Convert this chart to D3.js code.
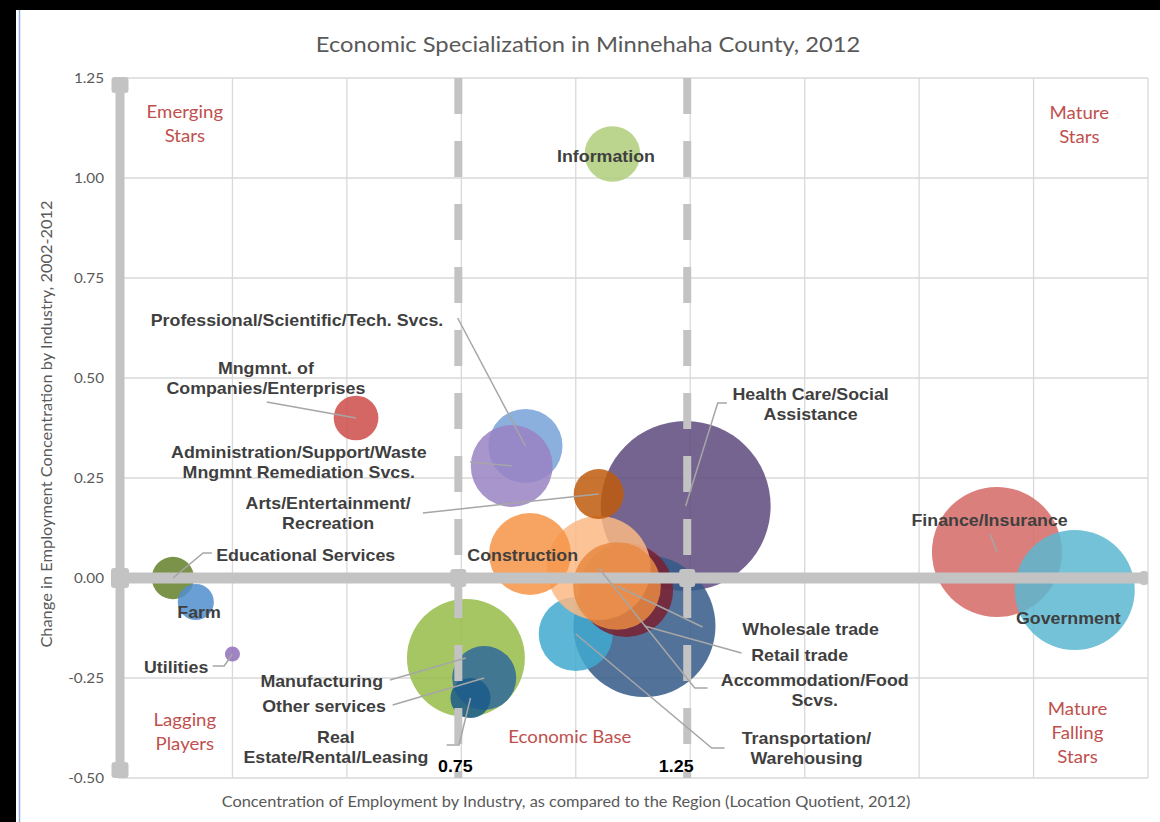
<!DOCTYPE html>
<html>
<head>
<meta charset="utf-8">
<script src="https://cdn.jsdelivr.net/npm/d3@7"></script>
<style>
  body { margin: 0; background: #fff; }
  svg { display: block; }
</style>
</head>
<body>
<div id="chart"></div>
<script>
// Data, listed in drawing order (back to front)
const industries = [
  "Manufacturing", "Other services", "Real Estate/Rental/Leasing",
  "Finance/Insurance", "Government", "Health Care/Social Assistance",
  "Retail trade", "Transportation/Warehousing", "Unlabeled",
  "Accommodation/Food Scvs.", "Wholesale trade", "Construction",
  "Arts/Entertainment/Recreation", "Professional/Scientific/Tech. Svcs.",
  "Administration/Support/Waste Mngmnt Remediation Svcs.",
  "Mngmnt. of Companies/Enterprises", "Information",
  "Educational Services", "Farm", "Utilities"
];
// location quotient 2012 (x)
const locationQuotient = [
  0.76, 0.80, 0.77, 1.92, 2.09, 1.24, 1.15, 1.00, 1.11, 1.05,
  1.09, 0.90, 1.05, 0.89, 0.86, 0.52, 1.08, 0.12, 0.17, 0.25
];
// change in concentration 2002-2012 (y)
const concentrationChange = [
  -0.20, -0.25, -0.30, 0.065, -0.03, 0.18, -0.12, -0.14, -0.03, 0.025,
  -0.02, 0.06, 0.21, 0.33, 0.28, 0.40, 1.06, 0.00, -0.06, -0.19
];
// employment (bubble size, thousands)
const employment = [
  13.9, 4.1, 1.6, 16.9, 14.4, 28.9, 20.2, 5.5, 8.8, 10.8,
  7.7, 6.7, 2.5, 5.5, 6.7, 2.0, 3.1, 1.8, 1.3, 0.23
];

const yTicks = [1.25, 1.00, 0.75, 0.50, 0.25, 0.00, -0.25, -0.50];
const xGrid = [0, 0.25, 0.5, 0.75, 1.0, 1.25, 1.5, 1.75, 2.0, 2.25];
const thresholds = [0.75, 1.25];
const thresholdLabels = ["0.75", "1.25"];

const quadrantNames = [
  ["Emerging", "Stars"], ["Mature", "Stars"], ["Lagging", "Players"],
  ["Economic Base"], ["Mature", "Falling", "Stars"]
];

// styling / layout
const bubbleColors = [
  "#95bc48", "#306999", "#1a5a8a", "#d56865", "#5cb7d1", "#5d497c",
  "#345988", "#41a9cf", "#7a2030", "#fab984", "#e88a43", "#f69447",
  "#bf5a0c", "#77a2d7", "#9983c3", "#cc4c48", "#b0ce7a",
  "#638029", "#508ecf", "#8f6fba"
];

// label text lines, label anchor (data units) and leader path start points
const labelLayout = [
  { lines: ["Manufacturing"], at: [0.445, -0.2575], leader: [[0.594, -0.255]] },
  { lines: ["Other services"], at: [0.450, -0.32], leader: [[0.600, -0.3175]] },
  { lines: ["Real", "Estate/Rental/Leasing"], at: [0.476, -0.3975], leader: [[0.718, -0.4175], [0.745, -0.4175]] },
  { lines: ["Finance/Insurance"], at: [1.904, 0.145], leader: [[1.905, 0.11]] },
  { lines: ["Government"], at: [2.076, -0.10] },
  { lines: ["Health Care/Social", "Assistance"], at: [1.513, 0.46], leader: [[1.330, 0.4375], [1.310, 0.4375]] },
  { lines: ["Retail trade"], at: [1.489, -0.1925], leader: [[1.362, -0.1875]] },
  { lines: ["Transportation/", "Warehousing"], at: [1.504, -0.40], leader: [[1.325, -0.425], [1.297, -0.425]] },
  null,
  { lines: ["Accommodation/Food", "Scvs."], at: [1.522, -0.255], leader: [[1.288, -0.275], [1.260, -0.275]] },
  { lines: ["Wholesale trade"], at: [1.513, -0.1275], leader: [[1.277, -0.1225]] },
  { lines: ["Construction"], at: [0.884, 0.0575] },
  { lines: ["Arts/Entertainment/", "Recreation"], at: [0.459, 0.1875], leader: [[0.666, 0.1625]] },
  { lines: ["Professional/Scientific/Tech. Svcs."], at: [0.391, 0.645], leader: [[0.742, 0.65]] },
  { lines: ["Administration/Support/Waste", "Mngmnt Remediation Svcs."], at: [0.395, 0.315], leader: [[0.769, 0.29]] },
  { lines: ["Mngmnt. of", "Companies/Enterprises"], at: [0.323, 0.525], leader: [[0.325, 0.44]] },
  { lines: ["Information"], at: [1.066, 1.055] },
  { lines: ["Educational Services"], at: [0.410, 0.0575], leader: [[0.205, 0.0625], [0.186, 0.0625]] },
  { lines: ["Farm"], at: [0.177, -0.085] },
  { lines: ["Utilities"], at: [0.127, -0.2225], leader: [[0.207, -0.22], [0.232, -0.22]] }
];

const quadrantLayout = [[0.146, 1.165], [2.10, 1.1625], [0.146, -0.355], [0.987, -0.3975], [2.096, -0.3275]];

// the source picture is slightly stretched sideways
const STRETCH = 1.13;
const BOLD_STRETCH = 1.08;

class BubbleChart {
  constructor(_config) {
    this.config = {
      parentElement: _config.parentElement,
      containerWidth: _config.containerWidth || 1160,
      containerHeight: _config.containerHeight || 822,
      plot: _config.plot || { left: 118, right: 1148, top: 78, bottom: 778 }
    };
    this.initVis();
  }

  // multi-line text placed with a sideways stretch
  addText(parent, x, y, lines, opts) {
    const t = parent.append("text")
      .attr("transform", `translate(${x},${y})${opts.rotate ? " rotate(-90)" : ""} scale(${opts.stretch},1)`)
      .attr("text-anchor", opts.anchor || "middle")
      .attr("font-family", opts.family)
      .attr("font-weight", opts.weight || "normal")
      .attr("font-size", opts.size)
      .attr("fill", opts.fill);
    t.selectAll("tspan").data(lines).join("tspan")
      .attr("x", 0)
      .attr("y", (l, j) => j * (opts.lineHeight || 0))
      .attr("dy", "0.35em")
      .text(l => l);
    return t;
  }

  initVis() {
    let vis = this;
    const p = vis.config.plot;

    vis.svg = d3.select(vis.config.parentElement)
      .append("svg")
      .attr("width", vis.config.containerWidth)
      .attr("height", vis.config.containerHeight);

    // screenshot frame
    vis.svg.append("rect").attr("x", 0).attr("y", 0).attr("width", 1160).attr("height", 10).attr("fill", "#000");
    vis.svg.append("rect").attr("x", 0).attr("y", 0).attr("width", 16).attr("height", 822).attr("fill", "#000");
    vis.svg.append("line").attr("x1", 19.5).attr("x2", 19.5).attr("y1", 10).attr("y2", 822)
      .attr("stroke", "#8db3e2").attr("stroke-width", 1.5);

    vis.x = d3.scaleLinear().domain([0, 2.25]).range([p.left, p.right]);
    vis.y = d3.scaleLinear().domain([-0.5, 1.25]).range([p.bottom, p.top]);
    vis.r = d3.scaleSqrt().domain([0, 28.9]).range([0, 85]);

    // gridlines
    vis.svg.append("g").selectAll("line").data(yTicks).join("line")
      .attr("x1", p.left).attr("x2", p.right)
      .attr("y1", d => vis.y(d)).attr("y2", d => vis.y(d))
      .attr("stroke", "#d9d9d9").attr("stroke-width", 1.3);
    vis.svg.append("g").selectAll("line").data(xGrid).join("line")
      .attr("x1", d => vis.x(d)).attr("x2", d => vis.x(d))
      .attr("y1", p.top).attr("y2", p.bottom)
      .attr("stroke", "#d9d9d9").attr("stroke-width", 1.3);

    const light = { family: "Lato, sans-serif", fill: "#595959", stretch: STRETCH };

    // y tick labels
    const ticks = vis.svg.append("g");
    yTicks.forEach(d => {
      vis.addText(ticks, p.left - 14, vis.y(d), [d3.format(".2f")(d).replace("\u2212", "-")],
        { ...light, size: 13.5, anchor: "end" });
    });

    // title + axis titles
    vis.addText(vis.svg, 588, 45, ["Economic Specialization in Minnehaha County, 2012"],
      { ...light, size: 21 });
    vis.addText(vis.svg, 47, 424, ["Change in Employment Concentration by Industry, 2002-2012"],
      { ...light, size: 14.5, rotate: true });
    vis.addText(vis.svg, 566, 802, ["Concentration of Employment by Industry, as compared to the Region (Location Quotient, 2012)"],
      { ...light, size: 14.5 });

    vis.updateVis();
  }

  updateVis() {
    let vis = this;
    const p = vis.config.plot;
    const data = industries.map((name, i) => ({
      name, lq: locationQuotient[i], change: concentrationChange[i],
      size: employment[i], color: bubbleColors[i], layout: labelLayout[i]
    }));

    // BUBBLES
    vis.svg.append("g").selectAll("circle").data(data).join("circle")
      .attr("cx", d => vis.x(d.lq))
      .attr("cy", d => vis.y(d.change))
      .attr("r", d => vis.r(d.size))
      .attr("fill", d => d.color)
      .attr("fill-opacity", 0.85);

    // quadrant names
    const qg = vis.svg.append("g");
    quadrantNames.forEach((lines, i) => {
      vis.addText(qg, vis.x(quadrantLayout[i][0]), vis.y(quadrantLayout[i][1]), lines,
        { family: "Lato, sans-serif", fill: "#c0504d", stretch: STRETCH, size: 16.5, lineHeight: 24 });
    });

    // thick reference lines (zero axes and thresholds)
    const refColor = "#c3c3c3";
    const g = vis.svg.append("g");
    g.append("line")
      .attr("x1", vis.x(0) + 2).attr("x2", vis.x(0) + 2)
      .attr("y1", p.top).attr("y2", p.bottom)
      .attr("stroke", refColor).attr("stroke-width", 9);
    g.append("line")
      .attr("x1", vis.x(0) - 5).attr("x2", p.right)
      .attr("y1", vis.y(0)).attr("y2", vis.y(0))
      .attr("stroke", refColor).attr("stroke-width", 11);
    g.selectAll("line.thr").data(thresholds).join("line")
      .attr("x1", d => vis.x(d) - 3).attr("x2", d => vis.x(d) - 3)
      .attr("y1", p.top).attr("y2", p.bottom)
      .attr("stroke", refColor).attr("stroke-width", 8)
      .attr("stroke-dasharray", "36,27");
    // caps and knobs
    const knobs = [[vis.x(0) + 2, p.top + 7, 17, 16], [vis.x(0) + 2, p.bottom - 8, 17, 16],
      [vis.x(0) + 2, vis.y(0), 18, 20], [p.right - 4, vis.y(0), 8, 14]]
      .concat(thresholds.map(t => [vis.x(t) - 3, vis.y(0), 16, 18]));
    g.selectAll("rect").data(knobs).join("rect")
      .attr("x", d => d[0] - d[2] / 2).attr("y", d => d[1] - d[3] / 2)
      .attr("width", d => d[2]).attr("height", d => d[3])
      .attr("rx", 3).attr("fill", refColor);

    // threshold labels
    const tg = vis.svg.append("g");
    thresholds.forEach((t, i) => {
      vis.addText(tg, vis.x(t) - (i ? 14 : 6), 766, [thresholdLabels[i]],
        { family: "Liberation Sans, Arial, sans-serif", weight: "bold", size: 17, fill: "#000", stretch: 1.05 });
    });

    // LEADER LINES
    const labeled = data.filter(d => d.layout);
    vis.svg.append("g").selectAll("polyline")
      .data(labeled.filter(d => d.layout.leader))
      .join("polyline")
      .attr("points", d => d.layout.leader
        .map(pt => [vis.x(pt[0]), vis.y(pt[1])])
        .concat([[vis.x(d.lq), vis.y(d.change)]]))
      .attr("fill", "none").attr("stroke", "#a6a6a6").attr("stroke-width", 1.5);

    // LABELS
    const lg = vis.svg.append("g");
    labeled.forEach(d => {
      vis.addText(lg, vis.x(d.layout.at[0]), vis.y(d.layout.at[1]), d.layout.lines,
        { family: "Liberation Sans, Arial, sans-serif", weight: "bold", size: 16.5,
          fill: "#3f3f3f", stretch: BOLD_STRETCH, lineHeight: 20 });
    });
  }
}

new BubbleChart({ parentElement: "#chart" });
</script>
</body>
</html>
